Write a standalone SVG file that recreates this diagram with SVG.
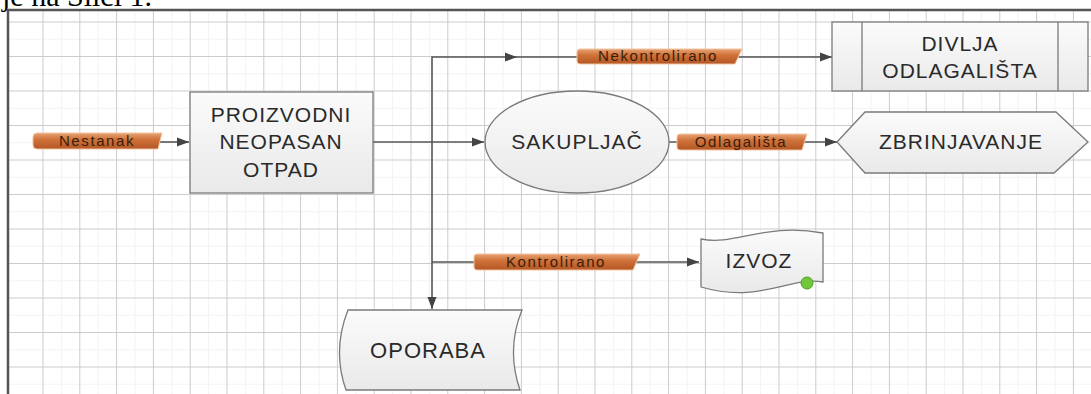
<svg xmlns="http://www.w3.org/2000/svg" width="1091" height="394" viewBox="0 0 1091 394">
<defs>
<style>
.grid{stroke:#cccccc;stroke-width:1}
.gridm{stroke:#f3f3f3;stroke-width:1}
.node{fill:url(#nodeFill);stroke:#7a7a7a;stroke-width:1.3}
.nt{font-family:"Liberation Sans",Arial,sans-serif;font-size:21px;fill:#2a2a2a;text-anchor:middle;letter-spacing:1px}
.conn{fill:none;stroke:#555;stroke-width:1.6}
.lbl{fill:url(#lblFill);stroke:#f2c3a0;stroke-width:1}
.lt{font-family:"Liberation Sans",Arial,sans-serif;font-size:15px;fill:#3a1e0c;text-anchor:middle;letter-spacing:1.6px}
</style>
<linearGradient id="nodeFill" x1="0" y1="0" x2="0" y2="1">
<stop offset="0" stop-color="#fbfbfb"/>
<stop offset="1" stop-color="#e9e9e9"/>
</linearGradient>
<linearGradient id="lblFill" x1="0" y1="0" x2="0" y2="1">
<stop offset="0" stop-color="#e6a274"/>
<stop offset="0.4" stop-color="#d0733a"/>
<stop offset="1" stop-color="#b45624"/>
</linearGradient>
<marker id="arr" markerUnits="userSpaceOnUse" markerWidth="13" markerHeight="10" refX="12" refY="5" orient="auto">
<path d="M0,0.5 L12,5 L0,9.5 Z" fill="#444"/>
</marker>
</defs>
<rect width="1091" height="394" fill="#ffffff"/>
<text x="2" y="6" font-family="'Liberation Serif','Times New Roman',serif" font-size="30" fill="#000">je na Slici 1.</text>
<g id="grid">
<path class="gridm" d="M61.4 11V394M98.2 11V394M135 11V394M171.8 11V394M208.6 11V394M245.4 11V394M282.2 11V394M319 11V394M355.8 11V394M392.6 11V394M429.4 11V394M466.2 11V394M503 11V394M539.8 11V394M576.6 11V394M613.4 11V394M650.2 11V394M687 11V394M723.8 11V394M760.6 11V394M797.4 11V394M834.2 11V394M871 11V394M907.8 11V394M944.6 11V394M981.4 11V394M1018.2 11V394M1055 11V394M9 39.25H1091M9 73.75H1091M9 108.25H1091M9 142.75H1091M9 177.25H1091M9 211.75H1091M9 246.25H1091M9 280.75H1091M9 315.25H1091M9 349.75H1091M9 384.25H1091"/>
<path class="grid" d="M43 11V394M79.8 11V394M116.6 11V394M153.4 11V394M190.2 11V394M227 11V394M263.8 11V394M300.6 11V394M337.4 11V394M374.2 11V394M411 11V394M447.8 11V394M484.6 11V394M521.4 11V394M558.2 11V394M595 11V394M631.8 11V394M668.6 11V394M705.4 11V394M742.2 11V394M779 11V394M815.8 11V394M852.6 11V394M889.4 11V394M926.2 11V394M963 11V394M999.8 11V394M1036.6 11V394M1073.4 11V394M9 22H1091M9 56.5H1091M9 91H1091M9 125.5H1091M9 160H1091M9 194.5H1091M9 229H1091M9 263.5H1091M9 298H1091M9 332.5H1091M9 367H1091"/>
</g>
<path d="M8 394V10H1091" fill="none" stroke="#555" stroke-width="2.5"/>
<g id="connectors">
<path class="conn" d="M160 142H189" marker-end="url(#arr)"/>
<path class="conn" d="M373 142H484" marker-end="url(#arr)"/>
<path class="conn" d="M432 142V309" marker-end="url(#arr)"/>
<path class="conn" d="M432 142V57H517" marker-end="url(#arr)"/>
<path class="conn" d="M517 57H832" marker-end="url(#arr)"/>
<path class="conn" d="M669 142H837" marker-end="url(#arr)"/>
<path class="conn" d="M432 262H699" marker-end="url(#arr)"/>
<g id="label-nestanak">
<path class="lbl" d="M37 133H162L158 149H37Q33 149 33 145V137Q33 133 37 133Z"/>
<text class="lt" x="97" y="146">Nestanak</text>
</g>
<g id="label-nekontrolirano">
<path class="lbl" d="M580 49H742L735 64H580Q577 64 577 61V52Q577 49 580 49Z"/>
<text class="lt" x="658" y="61">Nekontrolirano</text>
</g>
<g id="label-odlagalista">
<path class="lbl" d="M680 134H807L802 150H680Q677 150 677 147V137Q677 134 680 134Z"/>
<text class="lt" x="741" y="147">Odlagališta</text>
</g>
<g id="label-kontrolirano">
<path class="lbl" d="M477 254H640L633 270H477Q474 270 474 267V257Q474 254 477 254Z"/>
<text class="lt" x="556" y="267">Kontrolirano</text>
</g>
</g>
<g id="node-otpad">
<rect class="node" x="190" y="92" width="183" height="101"/>
<text class="nt" x="281" y="122">PROIZVODNI</text>
<text class="nt" x="281" y="149">NEOPASAN</text>
<text class="nt" x="281" y="177">OTPAD</text>
</g>
<g id="node-sakupljac">
<ellipse class="node" cx="577" cy="142" rx="92" ry="51"/>
<text class="nt" x="577" y="149">SAKUPLJAČ</text>
</g>
<g id="node-divlja">
<rect class="node" x="832" y="22" width="256" height="69"/>
<path d="M862 22V91M1058 22V91" stroke="#7a7a7a" stroke-width="1.3"/>
<text class="nt" x="960" y="51">DIVLJA</text>
<text class="nt" x="960" y="78">ODLAGALIŠTA</text>
</g>
<g id="node-zbrinjavanje">
<polygon class="node" points="837,142 865,112 1056,112 1088,142 1054,173 865,173"/>
<text class="nt" x="961" y="149">ZBRINJAVANJE</text>
</g>
<g id="node-izvoz">
<path class="node" d="M701 239C735 246 765 222 823 233L823 282C790 276 760 304 701 287Z"/>
<text class="nt" x="759" y="268">IZVOZ</text>
<circle cx="807" cy="283" r="6" fill="#72c63c" stroke="#4f9e24" stroke-width="1"/>
</g>
<g id="node-oporaba">
<path class="node" d="M348 310H522Q506 349 520 390H346Q332 350 348 310Z"/>
<text class="nt" x="428" y="358" style="font-size:22px">OPORABA</text>
</g>
</svg>
